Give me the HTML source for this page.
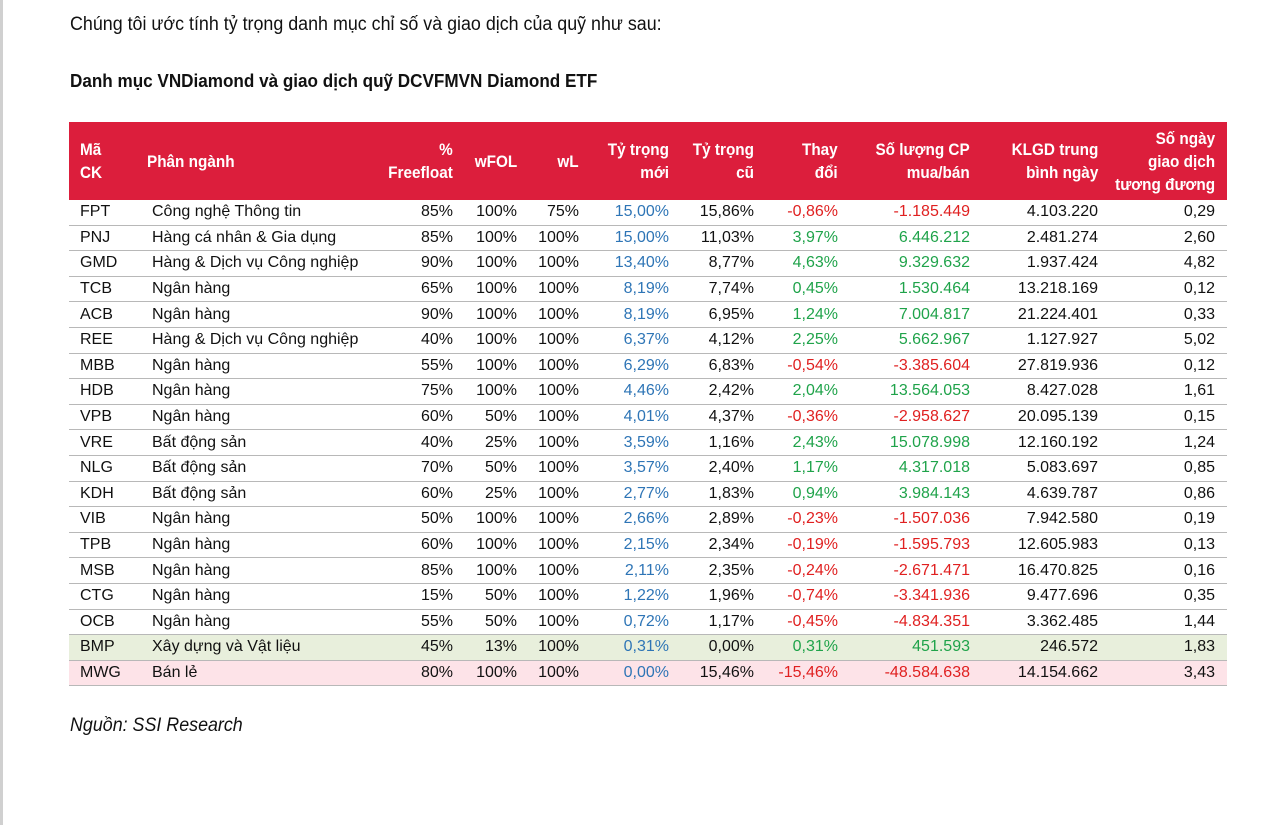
<!DOCTYPE html>
<html><head><meta charset="utf-8"><style>
body{margin:0;width:1280px;height:825px;background:#fff;position:relative;overflow:hidden;font-family:"Liberation Sans",sans-serif;color:#111}
.edge{position:absolute;left:0;top:0;width:3px;height:825px;background:#d0d0d0}
.t1{position:absolute;left:70px;top:14px;font-size:19px;transform:scaleX(.94);transform-origin:left;white-space:nowrap}
.t2{position:absolute;left:70px;top:71px;font-size:18px;font-weight:bold;transform:scaleX(.95);transform-origin:left;white-space:nowrap}
.src{position:absolute;left:70px;top:715px;font-size:19px;font-style:italic;transform:scaleX(.94);transform-origin:left;white-space:nowrap}
table{position:absolute;left:69px;top:122px;border-collapse:collapse;table-layout:fixed;width:1158px;font-size:16px}
th{background:#dc1e3c;color:#fff;font-weight:bold;height:78px;padding:0 5px;line-height:23px;text-align:right;vertical-align:middle;white-space:nowrap;font-size:17px}
th span{float:right;transform:scaleX(.9);transform-origin:right center;text-align:right}
th.l span{float:left;transform-origin:left center;text-align:left}
th.l{text-align:left}
td{height:24.6px;padding:0 5px;text-align:right;border-bottom:1px solid #b8b8b8;white-space:nowrap;line-height:24px}
td.l{text-align:left}
td:first-child{padding-left:11px}
td:nth-child(2){padding-left:12px}
td:last-child,th:last-child{padding-right:12px}
.b{color:#2e75b6}.r{color:#e02020}.g{color:#1fa34a}
tr.bmp td{background:#e8efdc}tr.mwg td{background:#fde3e8}
</style></head><body>
<div class="edge"></div>
<div class="t1">Chúng tôi ước tính tỷ trọng danh mục chỉ số và giao dịch của quỹ như sau:</div>
<div class="t2">Danh mục VNDiamond và giao dịch quỹ DCVFMVN Diamond ETF</div>
<table>
<colgroup><col style="width:71px"><col style="width:250px"><col style="width:68px"><col style="width:64px"><col style="width:62px"><col style="width:90px"><col style="width:85px"><col style="width:84px"><col style="width:132px"><col style="width:128px"><col style="width:124px"></colgroup>
<tr>
<th class="l" style="padding-left:11px"><span>Mã<br>CK</span></th>
<th class="l" style="padding-left:7px"><span>Phân ngành</span></th>
<th><span>%<br>Freefloat</span></th>
<th><span>wFOL</span></th>
<th><span>wL</span></th>
<th><span>Tỷ trọng<br>mới</span></th>
<th><span>Tỷ trọng<br>cũ</span></th>
<th><span>Thay<br>đổi</span></th>
<th><span>Số lượng CP<br>mua/bán</span></th>
<th><span>KLGD trung<br>bình ngày</span></th>
<th><span>Số ngày<br>giao dịch<br>tương đương</span></th>
</tr>
<tr><td class="l">FPT</td><td class="l">Công nghệ Thông tin</td><td>85%</td><td>100%</td><td>75%</td><td class="b">15,00%</td><td>15,86%</td><td class="r">-0,86%</td><td class="r">-1.185.449</td><td>4.103.220</td><td>0,29</td></tr>
<tr><td class="l">PNJ</td><td class="l">Hàng cá nhân &amp; Gia dụng</td><td>85%</td><td>100%</td><td>100%</td><td class="b">15,00%</td><td>11,03%</td><td class="g">3,97%</td><td class="g">6.446.212</td><td>2.481.274</td><td>2,60</td></tr>
<tr><td class="l">GMD</td><td class="l">Hàng &amp; Dịch vụ Công nghiệp</td><td>90%</td><td>100%</td><td>100%</td><td class="b">13,40%</td><td>8,77%</td><td class="g">4,63%</td><td class="g">9.329.632</td><td>1.937.424</td><td>4,82</td></tr>
<tr><td class="l">TCB</td><td class="l">Ngân hàng</td><td>65%</td><td>100%</td><td>100%</td><td class="b">8,19%</td><td>7,74%</td><td class="g">0,45%</td><td class="g">1.530.464</td><td>13.218.169</td><td>0,12</td></tr>
<tr><td class="l">ACB</td><td class="l">Ngân hàng</td><td>90%</td><td>100%</td><td>100%</td><td class="b">8,19%</td><td>6,95%</td><td class="g">1,24%</td><td class="g">7.004.817</td><td>21.224.401</td><td>0,33</td></tr>
<tr><td class="l">REE</td><td class="l">Hàng &amp; Dịch vụ Công nghiệp</td><td>40%</td><td>100%</td><td>100%</td><td class="b">6,37%</td><td>4,12%</td><td class="g">2,25%</td><td class="g">5.662.967</td><td>1.127.927</td><td>5,02</td></tr>
<tr><td class="l">MBB</td><td class="l">Ngân hàng</td><td>55%</td><td>100%</td><td>100%</td><td class="b">6,29%</td><td>6,83%</td><td class="r">-0,54%</td><td class="r">-3.385.604</td><td>27.819.936</td><td>0,12</td></tr>
<tr><td class="l">HDB</td><td class="l">Ngân hàng</td><td>75%</td><td>100%</td><td>100%</td><td class="b">4,46%</td><td>2,42%</td><td class="g">2,04%</td><td class="g">13.564.053</td><td>8.427.028</td><td>1,61</td></tr>
<tr><td class="l">VPB</td><td class="l">Ngân hàng</td><td>60%</td><td>50%</td><td>100%</td><td class="b">4,01%</td><td>4,37%</td><td class="r">-0,36%</td><td class="r">-2.958.627</td><td>20.095.139</td><td>0,15</td></tr>
<tr><td class="l">VRE</td><td class="l">Bất động sản</td><td>40%</td><td>25%</td><td>100%</td><td class="b">3,59%</td><td>1,16%</td><td class="g">2,43%</td><td class="g">15.078.998</td><td>12.160.192</td><td>1,24</td></tr>
<tr><td class="l">NLG</td><td class="l">Bất động sản</td><td>70%</td><td>50%</td><td>100%</td><td class="b">3,57%</td><td>2,40%</td><td class="g">1,17%</td><td class="g">4.317.018</td><td>5.083.697</td><td>0,85</td></tr>
<tr><td class="l">KDH</td><td class="l">Bất động sản</td><td>60%</td><td>25%</td><td>100%</td><td class="b">2,77%</td><td>1,83%</td><td class="g">0,94%</td><td class="g">3.984.143</td><td>4.639.787</td><td>0,86</td></tr>
<tr><td class="l">VIB</td><td class="l">Ngân hàng</td><td>50%</td><td>100%</td><td>100%</td><td class="b">2,66%</td><td>2,89%</td><td class="r">-0,23%</td><td class="r">-1.507.036</td><td>7.942.580</td><td>0,19</td></tr>
<tr><td class="l">TPB</td><td class="l">Ngân hàng</td><td>60%</td><td>100%</td><td>100%</td><td class="b">2,15%</td><td>2,34%</td><td class="r">-0,19%</td><td class="r">-1.595.793</td><td>12.605.983</td><td>0,13</td></tr>
<tr><td class="l">MSB</td><td class="l">Ngân hàng</td><td>85%</td><td>100%</td><td>100%</td><td class="b">2,11%</td><td>2,35%</td><td class="r">-0,24%</td><td class="r">-2.671.471</td><td>16.470.825</td><td>0,16</td></tr>
<tr><td class="l">CTG</td><td class="l">Ngân hàng</td><td>15%</td><td>50%</td><td>100%</td><td class="b">1,22%</td><td>1,96%</td><td class="r">-0,74%</td><td class="r">-3.341.936</td><td>9.477.696</td><td>0,35</td></tr>
<tr><td class="l">OCB</td><td class="l">Ngân hàng</td><td>55%</td><td>50%</td><td>100%</td><td class="b">0,72%</td><td>1,17%</td><td class="r">-0,45%</td><td class="r">-4.834.351</td><td>3.362.485</td><td>1,44</td></tr>
<tr class="bmp"><td class="l">BMP</td><td class="l">Xây dựng và Vật liệu</td><td>45%</td><td>13%</td><td>100%</td><td class="b">0,31%</td><td>0,00%</td><td class="g">0,31%</td><td class="g">451.593</td><td>246.572</td><td>1,83</td></tr>
<tr class="mwg"><td class="l">MWG</td><td class="l">Bán lẻ</td><td>80%</td><td>100%</td><td>100%</td><td class="b">0,00%</td><td>15,46%</td><td class="r">-15,46%</td><td class="r">-48.584.638</td><td>14.154.662</td><td>3,43</td></tr>
</table>
<div class="src">Nguồn: SSI Research</div>
</body></html>
